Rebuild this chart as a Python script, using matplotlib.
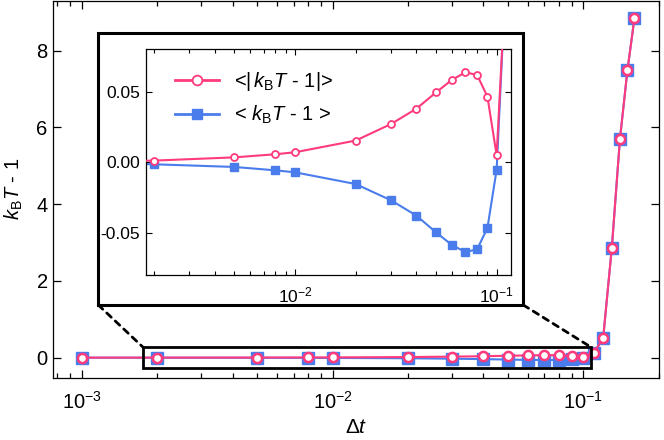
import matplotlib
matplotlib.use("Agg")
import matplotlib.pyplot as plt
from matplotlib.patches import Rectangle, ConnectionPatch
from matplotlib.ticker import LogLocator, FixedLocator, FixedFormatter, NullFormatter

# ---- data ----
dt = [0.001, 0.002, 0.005, 0.008, 0.01, 0.02, 0.03, 0.04, 0.05, 0.06, 0.07,
      0.08, 0.09, 0.1, 0.11, 0.12, 0.13, 0.14, 0.15, 0.16]
abs_dev = [0.0005, 0.0012, 0.0035, 0.0057, 0.0071, 0.0154, 0.0272, 0.038,
           0.0495, 0.0584, 0.0638, 0.0619, 0.0466, 0.005, 0.12, 0.5, 2.87,
           5.69, 7.49, 8.85]
mean_dev = [-0.0005, -0.0014, -0.0033, -0.0057, -0.0071, -0.0154, -0.027,
            -0.0378, -0.0496, -0.0586, -0.0636, -0.0617, -0.0466, -0.0052,
            0.12, 0.5, 2.87, 5.69, 7.49, 8.85]
main_yticks = [0, 2, 4, 6, 8]
decade_ticks = [1e-3, 1e-2, 1e-1]
decade_labels = [r'$\mathregular{10^{-3}}$', r'$\mathregular{10^{-2}}$', r'$\mathregular{10^{-1}}$']
inset_yticks = [-0.05, 0.0, 0.05]
inset_ylabels = ['-0.05', '0.00', '0.05']
label_abs = r'<$|\,k_\mathrm{B}T$ - 1$|$>'
label_mean = r'< $k_\mathrm{B}T$ - 1 >'

PINK = '#FF3A7D'
BLUE = '#4A7DEB'

plt.rcParams['font.family'] = ['Liberation Sans', 'DejaVu Sans']
plt.rcParams['mathtext.fontset'] = 'custom'
plt.rcParams['mathtext.rm'] = 'Liberation Sans'
plt.rcParams['mathtext.it'] = 'Liberation Sans:italic'
plt.rcParams['mathtext.bf'] = 'Liberation Sans:bold'

W, H = 664, 440
fig = plt.figure(figsize=(W / 100, H / 100), dpi=100)

def px(l, r, t, b):
    return [l / W, 1 - b / H, (r - l) / W, (b - t) / H]

ax = fig.add_axes(px(53.3, 659.3, 0.5, 378))
ax.set_xscale('log')
ax.plot(dt, mean_dev, '-', color=BLUE, lw=1.5, marker='s', ms=8,
        mfc=BLUE, mec=BLUE, zorder=3)
ax.plot(dt, abs_dev, '-', color=PINK, lw=1.5, marker='o', ms=6.6,
        mfc='white', mec=PINK, mew=1.8, zorder=4)
ax.set_xlim(7.7e-4, 0.201)
ax.set_ylim(-0.53, 9.31)
ax.set_yticks(main_yticks)
ax.set_xticks(decade_ticks)
ax.set_xticklabels(decade_labels)
ax.xaxis.set_minor_locator(LogLocator(base=10, subs=range(2, 10), numticks=20))
ax.xaxis.set_minor_formatter(NullFormatter())
ax.tick_params(which='both', direction='in', top=True, right=True, labelsize=14.5, width=0.9)
ax.tick_params(which='major', length=6)
ax.tick_params(which='minor', length=3.5)
ax.tick_params(axis='x', pad=9)
ax.tick_params(axis='y', pad=4)
for s in ax.spines.values():
    s.set_linewidth(0.9)
ax.set_xlabel(r'$\Delta t$', fontsize=15, labelpad=4)
ax.set_ylabel(r'$k_\mathrm{B}T$ - 1', fontsize=14.5)
ax.yaxis.set_label_coords(-0.047, 0.5)

# highlight rectangle in main plot
ax.add_patch(Rectangle((0.00175, -0.27), 0.107 - 0.00175, 0.55, fill=False,
                       ec='black', lw=2.0, zorder=5))

# outer frame around inset
bl = (98.3 / W, 1 - 305 / H)
br = (523.3 / W, 1 - 305 / H)
frame = Rectangle(bl, (523.3 - 98.3) / W, (305 - 32.7) / H, transform=fig.transFigure,
                  fc='white', ec='black', lw=2.2, zorder=6, clip_on=False)
ax.add_patch(frame)
for a, b in [(bl, (0.00175, 0.28)), (br, (0.107, 0.28))]:
    cp = ConnectionPatch(xyA=a, coordsA=fig.transFigure, xyB=b, coordsB=ax.transData,
                         color='black', lw=2.0, linestyle=(0, (2.2, 2.0)), zorder=6)
    fig.add_artist(cp)

# inset
ins = fig.add_axes(px(145.7, 511.0, 49.3, 275.3))
ins.set_xscale('log')
ins.plot(dt, abs_dev, '-', color=PINK, lw=1.5, marker='o', ms=5,
         mfc='white', mec=PINK, mew=1.3, label=label_abs, zorder=3)
ins.plot(dt, mean_dev, '-', color=BLUE, lw=1.5, marker='s', ms=5.2,
         mfc=BLUE, mec=BLUE, label=label_mean, zorder=2)
ins.set_xlim(0.00182, 0.1178)
ins.set_ylim(-0.0801, 0.0801)
ins.yaxis.set_major_locator(FixedLocator(inset_yticks))
ins.yaxis.set_major_formatter(FixedFormatter(inset_ylabels))
ins.set_xticks(decade_ticks[1:])
ins.set_xticklabels(decade_labels[1:])
ins.xaxis.set_minor_locator(LogLocator(base=10, subs=range(2, 10), numticks=20))
ins.xaxis.set_minor_formatter(NullFormatter())
ins.tick_params(which='both', direction='in', top=True, right=True, labelsize=12.5, width=0.8)
ins.tick_params(which='major', length=4.5)
ins.tick_params(which='minor', length=3)
ins.tick_params(axis='x', pad=7)
ins.tick_params(axis='y', pad=4)
for s in ins.spines.values():
    s.set_linewidth(0.9)
leg = ins.legend(loc='center left', bbox_to_anchor=(0.080, 0.784), frameon=False,
                 fontsize=14.5, handlelength=2.2, handletextpad=0.75, labelspacing=0.55,
                 borderpad=0, borderaxespad=0, markerscale=1.4)
for ln in leg.get_lines():
    ln.set_linewidth(2.0)

fig.savefig('out.png', dpi=100)
